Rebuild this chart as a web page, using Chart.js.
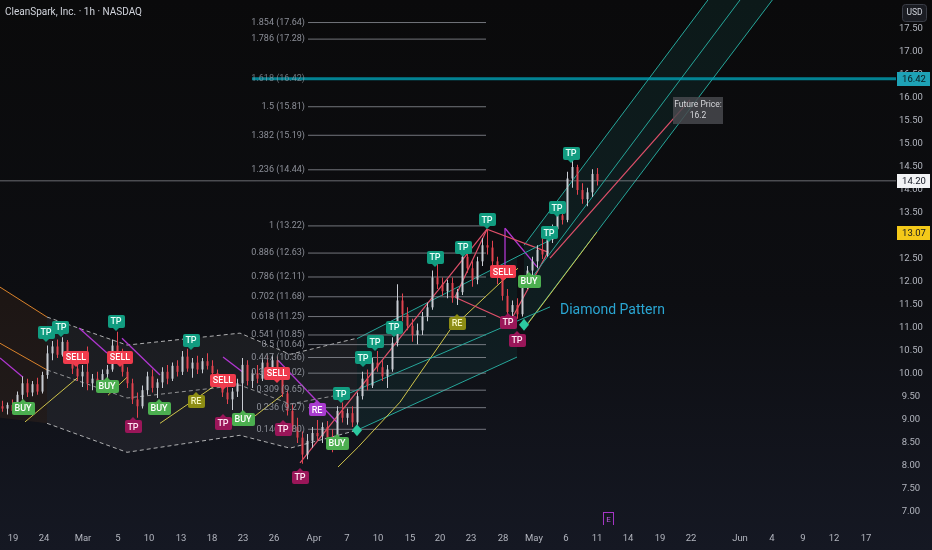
<!DOCTYPE html>
<html>
<head>
<meta charset="utf-8">
<script src="https://cdn.jsdelivr.net/npm/chart.js@4.4.1/dist/chart.umd.min.js"></script>
<style>
html, body { margin: 0; padding: 0; background: #0b0b0c; }
#wrap { width: 932px; height: 550px; }
</style>
</head>
<body>
<div id="wrap"><canvas id="myChart" width="932" height="550"></canvas></div>
<script>
// hourly candles, one slot each (slot = candle index + 0.5)
const candleOpen = [
  9.30, 9.25, 9.33, 9.20, 9.55, 9.80, 9.60, 9.78, 9.62, 9.98,
  10.45, 10.60, 10.42, 10.70, 10.35, 10.12, 9.95, 10.05, 9.80, 9.90,
  9.75, 10.00, 10.10, 10.62, 10.40, 10.05, 9.80, 9.45, 9.30, 9.65,
  9.95, 9.70, 9.82, 10.05, 9.90, 10.18, 10.05, 10.38, 10.12, 10.25,
  10.10, 10.28, 10.18, 10.02, 9.85, 9.60, 9.45, 9.62, 9.80, 10.20,
  9.85, 10.02, 9.90, 10.25, 10.08, 10.30, 9.92, 9.58, 9.20, 8.85,
  8.62, 8.25, 8.55, 8.72, 8.65, 8.85, 8.62, 8.50, 9.20, 9.05,
  9.15, 8.95, 9.52, 9.90, 9.75, 10.25, 10.15, 9.95, 10.10, 10.68,
  11.60, 11.30, 11.05, 10.85, 10.95, 11.25, 11.45, 12.10, 11.95, 11.80,
  11.98, 11.65, 11.78, 12.55, 12.30, 12.05, 12.45, 12.80, 12.75, 12.45,
  12.10, 11.70, 11.35, 11.50, 11.30, 11.95, 12.25, 12.45, 12.70, 12.60,
  12.92, 13.15, 13.45, 13.35, 14.25, 14.50, 14.00, 13.80, 13.95, 14.35
];
const candleHigh = [
  9.42, 9.38, 9.45, 9.62, 9.95, 9.90, 9.85, 9.92, 10.05, 10.62,
  10.72, 10.75, 10.80, 10.74, 10.45, 10.30, 10.20, 10.60, 10.00, 10.05,
  10.10, 10.20, 10.75, 10.92, 10.55, 10.15, 9.90, 9.60, 9.75, 10.05,
  10.10, 9.90, 10.15, 10.20, 10.25, 10.30, 10.50, 10.55, 10.35, 10.40,
  10.35, 10.45, 10.30, 10.10, 9.95, 9.75, 9.70, 9.90, 10.35, 10.30,
  10.10, 10.20, 10.35, 10.40, 10.42, 10.38, 10.00, 9.65, 9.35, 9.05,
  8.75, 8.70, 8.85, 9.00, 8.95, 8.98, 8.80, 9.30, 9.38, 9.25,
  9.30, 9.60, 10.05, 10.10, 10.35, 10.50, 10.30, 10.20, 10.80, 11.95,
  11.75, 11.45, 11.20, 11.10, 11.35, 11.55, 12.25, 12.40, 12.10, 12.05,
  12.10, 11.85, 12.85, 12.70, 12.45, 12.55, 12.95, 13.15, 12.90, 12.55,
  12.25, 11.85, 11.60, 11.65, 12.10, 12.35, 12.55, 12.80, 12.95, 13.00,
  13.25, 13.55, 13.70, 14.40, 14.70, 14.55, 14.15, 14.05, 14.45, 14.48
];
const candleLow = [
  9.18, 9.12, 9.15, 9.15, 9.45, 9.50, 9.52, 9.55, 9.58, 9.90,
  10.30, 10.35, 10.38, 10.25, 10.00, 9.85, 9.72, 9.65, 9.65, 9.70,
  9.62, 9.70, 10.05, 10.30, 9.95, 9.70, 9.35, 9.05, 9.25, 9.55,
  9.60, 9.48, 9.70, 9.78, 9.85, 9.95, 9.98, 10.05, 9.92, 10.00,
  10.02, 10.10, 9.95, 9.78, 9.50, 9.35, 9.22, 9.50, 9.15, 9.75,
  9.70, 9.80, 9.85, 10.00, 9.95, 9.85, 9.50, 9.10, 8.75, 8.50,
  8.05, 8.15, 8.40, 8.55, 8.50, 8.55, 8.30, 8.35, 8.95, 8.90,
  8.85, 8.90, 9.45, 9.65, 9.70, 10.05, 9.85, 9.70, 10.05, 10.60,
  11.15, 10.95, 10.70, 10.65, 10.85, 11.15, 11.40, 11.85, 11.70, 11.65,
  11.55, 11.50, 11.72, 12.20, 11.90, 11.95, 12.35, 12.60, 12.35, 11.95,
  11.60, 11.20, 11.15, 11.20, 11.25, 11.85, 12.05, 12.30, 12.50, 12.55,
  12.85, 13.05, 13.25, 13.30, 14.05, 13.90, 13.70, 13.65, 13.85, 14.10
];
const candleClose = [
  9.25, 9.33, 9.20, 9.55, 9.80, 9.60, 9.78, 9.62, 9.98, 10.45,
  10.60, 10.42, 10.70, 10.35, 10.12, 9.95, 10.05, 9.80, 9.90, 9.75,
  10.00, 10.10, 10.62, 10.40, 10.05, 9.80, 9.45, 9.30, 9.65, 9.95,
  9.70, 9.82, 10.05, 9.90, 10.18, 10.05, 10.38, 10.12, 10.25, 10.10,
  10.28, 10.18, 10.02, 9.85, 9.60, 9.45, 9.62, 9.80, 10.20, 9.85,
  10.02, 9.90, 10.25, 10.08, 10.30, 9.92, 9.58, 9.20, 8.85, 8.62,
  8.25, 8.55, 8.72, 8.65, 8.85, 8.62, 8.50, 9.20, 9.05, 9.15,
  8.95, 9.52, 9.90, 9.75, 10.25, 10.15, 9.95, 10.10, 10.68, 11.60,
  11.30, 11.05, 10.85, 10.95, 11.25, 11.45, 12.10, 11.95, 11.80, 11.98,
  11.65, 11.78, 12.55, 12.30, 12.05, 12.45, 12.80, 12.75, 12.45, 12.10,
  11.70, 11.35, 11.50, 11.30, 11.95, 12.25, 12.45, 12.70, 12.60, 12.92,
  13.15, 13.45, 13.35, 14.25, 14.50, 14.00, 13.80, 13.95, 14.35, 14.20
];

// axes
const xTickSlots = [2.6, 8.8, 16.6, 23.6, 29.8, 36.2, 42.4, 48.6, 54.8, 62.8, 69.4, 75.6, 82, 88,
  94.2, 100.6, 106.8, 113.2, 119.4, 125.6, 132, 138.2, 148, 154.4, 160.6, 166.8, 173.2];
const xTickLabels = ['19', '24', 'Mar', '5', '10', '13', '18', '23', '26', 'Apr', '7', '10', '15', '20',
  '23', '28', 'May', '6', '11', '14', '19', '22', 'Jun', '4', '9', '12', '17'];
const yTicks = [7, 7.5, 8, 8.5, 9, 9.5, 10, 10.5, 11, 11.5, 12, 12.5, 13, 13.5, 14, 14.5, 15, 15.5, 16, 16.5, 17, 17.5];

// fibonacci extension
const fibRatios = ['1.854', '1.786', '1.618', '1.5', '1.382', '1.236', '1', '0.886', '0.786', '0.702',
  '0.618', '0.541', '0.5', '0.447', '0.382', '0.309', '0.236', '0.146'];
const fibPrices = [17.64, 17.28, 16.42, 15.81, 15.19, 14.44, 13.22, 12.63, 12.11, 11.68,
  11.25, 10.85, 10.64, 10.36, 10.02, 9.65, 9.27, 8.80];
const fibSpan = [61.6, 97.2];
const keyLevel = 16.42;
const lastPrice = 14.20;
const supportPrice = 13.07;

// drawn lines, [slot, price]
const orangeTop = [[0, 11.89], [9.4, 11.24]];
const orangeMid = [[0, 10.67], [9.4, 10.09]];
const orangeLow = [[0, 9.05], [9.4, 8.93]];
const rangeUpper = [[9.4, 11.24], [25.4, 10.63], [48, 10.89], [58, 10.43], [71.4, 10.78]];
const rangeMid = [[9.4, 10.09], [25.4, 9.48], [48, 9.76], [58, 9.35], [70, 9.59]];
const rangeLower = [[9.4, 8.93], [25.4, 8.30], [48, 8.67], [58, 8.39], [71.4, 8.78]];
const trendUpper = [[71.4, 10.77], [103.4, 12.55]];
const trendUpperTail = [[103.4, 12.55], [110, 12.91]];
const trendMid = [[70, 9.59], [110, 11.46]];
const trendLower = [[71.4, 8.78], [103.4, 10.37]];
const steepUpper = [[104.8, 12.80], [156, 20.22]];
const steepMid = [[104.8, 11.87], [156, 19.29]];
const steepLower = [[104.8, 11.00], [156, 18.35]];
const projection = [[110, 12.52], [138, 15.96]];
const redRise = [[60, 8.07], [97.4, 13.15]];
const diamondOutline = [[91, 11.67], [97.4, 13.15], [109.6, 12.65], [102, 11.13], [91, 11.67]];
const purpleLegs = [
  [[0, 10.35], [4.6, 9.93]],
  [[15.8, 11.00], [21.4, 10.46]],
  [[24.4, 10.78], [32, 9.98]],
  [[44.6, 10.37], [48.6, 10.04]],
  [[55.6, 10.30], [67.6, 8.93]],
  [[101, 13.17], [107.4, 12.33]],
  [[101, 13.17], [101, 12.30]]
];
const yellowLegs = [
  [[5, 8.96], [15.6, 9.93]],
  [[21.6, 9.54], [25.4, 9.93]],
  [[32, 8.93], [42.6, 9.72]],
  [[48.6, 8.89], [56.4, 9.54]],
  [[67.6, 7.98], [71.6, 8.41], [80, 9.39], [90, 10.96], [100.6, 12.04], [103.6, 12.30]],
  [[105.4, 11.07], [119.4, 13.09]]
];

// signal labels
const tpUpSlots = [9.2, 12.2, 23.2, 38.2, 68.2, 72.6, 75, 78.8, 87, 92.6, 97.4, 109.8, 111.4, 114.2];
const tpUpPrices = [10.91, 11.02, 11.15, 10.74, 9.57, 10.35, 10.70, 11.02, 12.54, 12.76, 13.35, 13.07, 13.61, 14.80];
const sellSlots = [15.2, 24, 44.6, 55.4, 100.6];
const sellPrices = [10.37, 10.37, 9.87, 10.02, 12.22];
const buySlots = [4.6, 21.4, 31.8, 48.6, 67.4, 105.8];
const buyPrices = [9.26, 9.74, 9.26, 9.02, 8.50, 12.02];
const tpDownSlots = [26.6, 44.6, 56.6, 60, 101.6, 103.4];
const tpDownPrices = [8.85, 8.93, 8.80, 7.76, 11.13, 10.74];
const reSlots = [39.2, 91.4];
const rePrices = [9.41, 11.11];
const reAltSlots = [63.4];
const reAltPrices = [9.22];
const diamondSlots = [71.4, 104.8];
const diamondPrices = [8.78, 11.07];
const futureNote = ['Future Price:', '16.2'];
const futureAt = [134.6, 16.02];
const patternName = 'Diamond Pattern';
const patternAt = [112, 11.39];
const earningsSlot = 121.6;

const UP = '#c9ccd3';
const DOWN = '#e2434f';
const FONT = 'Roboto, "Noto Sans", sans-serif';

function lineSet(points, color, width, dash, extra) {
  return Object.assign({
    type: 'line',
    data: points.map(p => ({ x: p[0], y: p[1] })),
    borderColor: color,
    borderWidth: width,
    borderDash: dash || [],
    pointRadius: 0,
    fill: false,
    tension: 0,
    order: 5
  }, extra || {});
}

const candleColors = candleClose.map((c, i) => c >= candleOpen[i] ? UP : DOWN);
const datasets = [];
datasets.push({
  type: 'bar',
  data: candleOpen.map((o, i) => ({ x: i + 0.5, y: [o, candleClose[i]] })),
  backgroundColor: candleColors,
  grouped: false,
  maxBarThickness: 2,
  order: 0
});
datasets.push({
  type: 'bar',
  data: candleHigh.map((h, i) => ({ x: i + 0.5, y: [candleLow[i], h] })),
  backgroundColor: candleColors,
  grouped: false,
  maxBarThickness: 1,
  order: 1
});

// filled zones
let idx = datasets.length;
datasets.push(lineSet(orangeTop, '#d9822b', 1, null, { order: 8 }));
datasets.push(lineSet(orangeLow, 'rgba(0,0,0,0)', 0, null, { order: 8, fill: idx, backgroundColor: 'rgba(200,110,40,0.09)' }));
datasets.push(lineSet(orangeMid, '#d9822b', 1));

idx = datasets.length;
datasets.push(lineSet(rangeUpper, 'rgba(225,225,225,0.75)', 1, [4, 3], { order: 8 }));
datasets.push(lineSet(rangeLower, 'rgba(225,225,225,0.75)', 1, [4, 3], { order: 8, fill: idx, backgroundColor: 'rgba(255,255,255,0.055)' }));
datasets.push(lineSet(rangeMid, 'rgba(225,225,225,0.6)', 1, [4, 3]));

idx = datasets.length;
datasets.push(lineSet(trendUpper, '#26a69a', 1, null, { order: 8 }));
datasets.push(lineSet(trendLower, '#26a69a', 1, null, { order: 8, fill: idx, backgroundColor: 'rgba(38,166,154,0.09)' }));
datasets.push(lineSet(trendUpperTail, '#26a69a', 1));
datasets.push(lineSet(trendMid, '#26a69a', 1));

idx = datasets.length;
datasets.push(lineSet(steepUpper, '#26a69a', 1, null, { order: 8 }));
datasets.push(lineSet(steepLower, '#26a69a', 1, null, { order: 8, fill: idx, backgroundColor: 'rgba(38,166,154,0.10)' }));
datasets.push(lineSet(steepMid, '#26a69a', 1));

// fib levels
fibPrices.forEach((p, i) => {
  if (p === keyLevel) return;
  datasets.push(lineSet([[fibSpan[0], p], [fibSpan[1], p]], 'rgba(150,152,160,0.75)', 1, null, { order: 6 }));
});
datasets.push(lineSet([[50.4, keyLevel], [179.2, keyLevel]], 'rgba(0,160,180,0.8)', 3, null, { order: 4 }));
datasets.push(lineSet([[0, lastPrice], [179.2, lastPrice]], 'rgba(170,172,180,0.6)', 1, null, { order: 6 }));

datasets.push(lineSet(projection, '#e0506a', 1.2));
datasets.push(lineSet(redRise, '#e0506a', 1.2));
datasets.push(lineSet(diamondOutline, '#e0506a', 1.2));
purpleLegs.forEach(l => datasets.push(lineSet(l, '#b036d0', 1.3)));
yellowLegs.forEach(l => datasets.push(lineSet(l, '#cfc44a', 1)));

function tag(ctx, cx, cy, text, bg, fg, pointer) {
  ctx.font = '500 9px ' + FONT;
  const w = Math.round(ctx.measureText(text).width + 6), h = 13;
  const x0 = Math.round(cx - w / 2), y0 = Math.round(cy - h / 2);
  ctx.fillStyle = bg;
  ctx.beginPath();
  if (ctx.roundRect) ctx.roundRect(x0, y0, w, h, 2); else ctx.rect(x0, y0, w, h);
  ctx.fill();
  ctx.beginPath();
  if (pointer === 'down') {
    ctx.moveTo(cx - 3, y0 + h); ctx.lineTo(cx + 3, y0 + h); ctx.lineTo(cx, y0 + h + 3);
  } else {
    ctx.moveTo(cx - 3, y0); ctx.lineTo(cx + 3, y0); ctx.lineTo(cx, y0 - 3);
  }
  ctx.fill();
  ctx.fillStyle = fg;
  ctx.textAlign = 'center';
  ctx.textBaseline = 'middle';
  ctx.fillText(text, cx, cy + 0.5);
}

const markerGroups = [
  { slots: tpUpSlots, prices: tpUpPrices, text: 'TP', bg: '#119c80', fg: '#e9fff9', pointer: 'down' },
  { slots: sellSlots, prices: sellPrices, text: 'SELL', bg: '#ef3b4c', fg: '#ffffff', pointer: 'down' },
  { slots: buySlots, prices: buyPrices, text: 'BUY', bg: '#4caf50', fg: '#ffffff', pointer: 'up' },
  { slots: tpDownSlots, prices: tpDownPrices, text: 'TP', bg: '#9a1659', fg: '#ffe6f2', pointer: 'up' },
  { slots: reSlots, prices: rePrices, text: 'RE', bg: '#8d8d14', fg: '#f4f4c0', pointer: 'up' },
  { slots: reAltSlots, prices: reAltPrices, text: 'RE', bg: '#a93bcf', fg: '#ffffff', pointer: 'up' }
];

const overlay = {
  id: 'overlay',
  beforeDraw(chart) {
    const { ctx, width, height } = chart;
    const g = ctx.createLinearGradient(0, 0, 0, height);
    g.addColorStop(0, '#0a0a0b');
    g.addColorStop(0.55, '#0d0e12');
    g.addColorStop(1, '#151823');
    ctx.save();
    ctx.fillStyle = g;
    ctx.fillRect(0, 0, width, height);
    ctx.restore();
  },
  afterDatasetsDraw(chart) {
    const { ctx, chartArea: a, scales: { x, y } } = chart;
    ctx.save();
    ctx.beginPath();
    ctx.rect(a.left, a.top, a.right - a.left, a.bottom - a.top);
    ctx.clip();

    // fib labels
    ctx.font = '9px ' + FONT;
    ctx.textAlign = 'right';
    ctx.textBaseline = 'middle';
    fibPrices.forEach((p, i) => {
      ctx.fillStyle = p === keyLevel ? 'rgba(150,160,170,0.7)' : '#8c8f98';
      ctx.fillText(fibRatios[i] + ' (' + p.toFixed(2) + ')', x.getPixelForValue(fibSpan[0]) - 3, y.getPixelForValue(p));
    });

    // diamonds
    ctx.fillStyle = '#2cc9a0';
    diamondSlots.forEach((s, i) => {
      const px = x.getPixelForValue(s), py = y.getPixelForValue(diamondPrices[i]);
      ctx.beginPath();
      ctx.moveTo(px, py - 6); ctx.lineTo(px + 5, py); ctx.lineTo(px, py + 6); ctx.lineTo(px - 5, py);
      ctx.closePath();
      ctx.fill();
    });

    // signal tags
    markerGroups.forEach(gr => gr.slots.forEach((s, i) => {
      tag(ctx, x.getPixelForValue(s), y.getPixelForValue(gr.prices[i]), gr.text, gr.bg, gr.fg, gr.pointer);
    }));

    // pattern name
    ctx.font = '14px ' + FONT;
    ctx.textAlign = 'left';
    ctx.textBaseline = 'middle';
    ctx.fillStyle = '#2aa6d2';
    ctx.fillText(patternName, x.getPixelForValue(patternAt[0]), y.getPixelForValue(patternAt[1]));

    // future price note
    const fx = x.getPixelForValue(futureAt[0]), fy = y.getPixelForValue(futureAt[1]);
    ctx.fillStyle = 'rgba(72,73,78,0.85)';
    ctx.fillRect(Math.round(fx), Math.round(fy), 50, 27);
    ctx.font = '8.5px ' + FONT;
    ctx.textAlign = 'center';
    ctx.fillStyle = '#d6d7db';
    ctx.fillText(futureNote[0], fx + 25, fy + 8);
    ctx.fillText(futureNote[1], fx + 25, fy + 19);

    // earnings marker
    const ex = x.getPixelForValue(earningsSlot);
    ctx.strokeStyle = '#a535c6';
    ctx.lineWidth = 1;
    ctx.strokeRect(Math.round(ex - 5) + 0.5, a.bottom - 12.5, 10, 13);
    ctx.fillStyle = '#c05ae0';
    ctx.font = '8px ' + FONT;
    ctx.fillText('E', ex + 0.5, a.bottom - 5.5);
    ctx.restore();
  },
  afterDraw(chart) {
    const { ctx, chartArea: a, scales: { y } } = chart;
    ctx.save();
    ctx.font = '10px ' + FONT;
    ctx.fillStyle = '#d1d4dc';
    ctx.textAlign = 'left';
    ctx.textBaseline = 'middle';
    ctx.fillText('CleanSpark, Inc. · 1h · NASDAQ', 5, 12);

    const tags = [
      [keyLevel, '#1ea2b6', '#0b1a1e'],
      [lastPrice, '#f2f3f5', '#131722'],
      [supportPrice, '#f4c919', '#131722']
    ];
    ctx.font = '9.5px ' + FONT;
    ctx.textAlign = 'center';
    tags.forEach(t => {
      const py = Math.round(y.getPixelForValue(t[0]));
      ctx.fillStyle = t[1];
      ctx.fillRect(a.right + 1, py - 7, 33, 14);
      ctx.fillStyle = t[2];
      ctx.fillText(t[0].toFixed(2), a.right + 18, py + 0.5);
    });

    ctx.fillStyle = '#1a1c22';
    ctx.strokeStyle = '#3a3d46';
    ctx.beginPath();
    if (ctx.roundRect) ctx.roundRect(a.right + 6.5, 4.5, 24, 17, 3); else ctx.rect(a.right + 6.5, 4.5, 24, 17);
    ctx.fill();
    ctx.stroke();
    ctx.fillStyle = '#d1d4dc';
    ctx.font = '8.5px ' + FONT;
    ctx.fillText('USD', a.right + 18.5, 13);
    ctx.restore();
  }
};

Chart.defaults.font.family = FONT;
Chart.defaults.color = '#b2b5be';

new Chart(document.getElementById('myChart').getContext('2d'), {
  type: 'bar',
  data: { datasets: datasets },
  plugins: [overlay],
  options: {
    responsive: false,
    animation: false,
    layout: { padding: 0 },
    plugins: { legend: { display: false }, tooltip: { enabled: false } },
    scales: {
      x: {
        type: 'linear',
        min: 0,
        max: 179.2,
        offset: false,
        grid: { display: false, offset: false, drawTicks: false },
        border: { display: false },
        afterBuildTicks: s => { s.ticks = xTickSlots.map(v => ({ value: v })); },
        afterFit: s => { s.height = 25; s.paddingLeft = 0; s.paddingRight = 0; },
        ticks: {
          autoSkip: false,
          maxRotation: 0,
          minRotation: 0,
          padding: 8,
          font: { size: 9.5 },
          callback: (v, i) => xTickLabels[i]
        }
      },
      y: {
        type: 'linear',
        position: 'right',
        min: 6.72,
        max: 18.13,
        grid: { display: false, drawTicks: false },
        border: { display: false },
        afterBuildTicks: s => { s.ticks = yTicks.map(v => ({ value: v })); },
        afterFit: s => { s.width = 36; s.paddingTop = 0; s.paddingBottom = 0; },
        ticks: {
          crossAlign: 'center',
          font: { size: 9.5 },
          callback: v => Number(v).toFixed(2)
        }
      }
    }
  }
});
</script>
</body>
</html>
